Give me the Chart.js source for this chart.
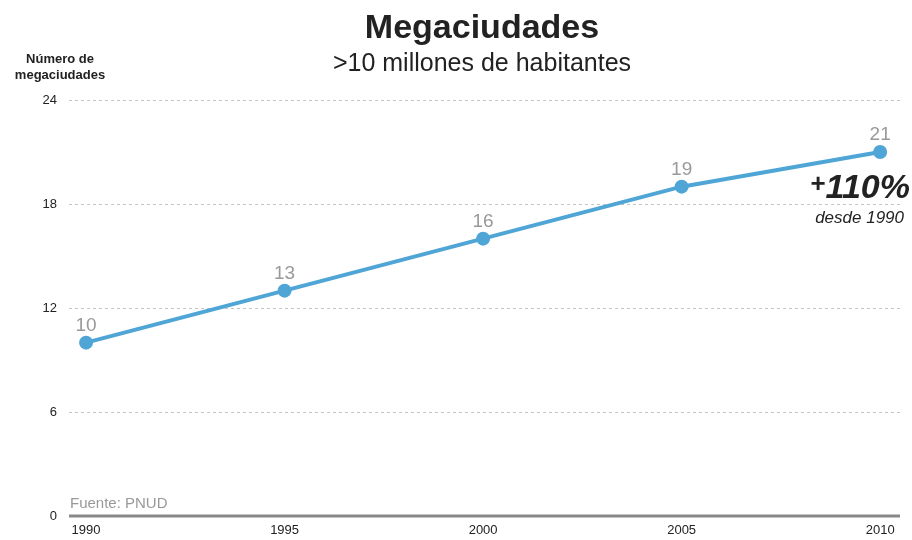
<!DOCTYPE html>
<html>
<head>
<meta charset="utf-8">
<script src="https://cdn.jsdelivr.net/npm/chart.js@4"></script>
<style>
  html, body { margin: 0; padding: 0; background: #fff; }
  #wrap { width: 912px; height: 540px; position: relative; }
</style>
</head>
<body>
<div id="wrap"><canvas id="chart"></canvas></div>
<script>
// datos
const years = [1990, 1995, 2000, 2005, 2010];
const megaciudades = [10, 13, 16, 19, 21];
const yTicks = [0, 6, 12, 18, 24];

const FONT = '"Liberation Sans", Arial, sans-serif';
const LINE_COLOR = '#4fa6d6';

// titulos y notas
const textPlugin = {
    id: 'texts',
    afterDraw(chart) {
        const { ctx, chartArea: { left, bottom }, scales: { x, y } } = chart;
        ctx.save();
        ctx.textAlign = 'center';
        ctx.textBaseline = 'alphabetic';
        ctx.fillStyle = '#222';
        ctx.font = 'bold 34px ' + FONT;
        ctx.fillText('Megaciudades', 482, 38);
        ctx.font = '25px ' + FONT;
        ctx.fillText('>10 millones de habitantes', 482, 71);

        ctx.font = 'bold 13px ' + FONT;
        ctx.fillText('Número de', 60, 63);
        ctx.fillText('megaciudades', 60, 79);

        // etiquetas de valores
        ctx.fillStyle = '#999';
        ctx.font = '19px ' + FONT;
        years.forEach((yr, i) => {
            ctx.fillText(String(megaciudades[i]), x.getPixelForValue(yr), y.getPixelForValue(megaciudades[i]) - 12);
        });

        // +110%
        ctx.fillStyle = '#222';
        ctx.textAlign = 'right';
        ctx.font = 'italic bold 34px ' + FONT;
        ctx.fillText('110%', 910, 198);
        const w = ctx.measureText('110%').width;
        ctx.font = 'bold 26px ' + FONT;
        ctx.fillText('+', 910 - w, 192);
        ctx.font = 'italic 17px ' + FONT;
        ctx.fillText('desde 1990', 904, 223);

        ctx.textAlign = 'left';
        ctx.fillStyle = '#999';
        ctx.font = '15px ' + FONT;
        ctx.fillText('Fuente: PNUD', left + 1, bottom - 8);
        ctx.restore();
    }
};

// linea base
const baselinePlugin = {
    id: 'baseline',
    beforeDatasetsDraw(chart) {
        const { ctx, chartArea: { left, right, bottom } } = chart;
        ctx.save();
        ctx.beginPath();
        ctx.moveTo(left, bottom);
        ctx.lineTo(right, bottom);
        ctx.lineWidth = 3;
        ctx.strokeStyle = '#888';
        ctx.stroke();
        ctx.restore();
    }
};

new Chart(document.getElementById('chart').getContext('2d'), {
    type: 'line',
    data: {
        datasets: [{
            data: years.map((yr, i) => ({ x: yr, y: megaciudades[i] })),
            borderColor: LINE_COLOR,
            backgroundColor: LINE_COLOR,
            borderWidth: 4,
            pointRadius: 5,
            pointHoverRadius: 5,
            tension: 0
        }]
    },
    plugins: [baselinePlugin, textPlugin],
    options: {
        responsive: true,
        maintainAspectRatio: false,
        animation: false,
        layout: { padding: { top: 100, right: 12, left: 0, bottom: 0 } },
        plugins: {
            legend: { display: false },
            tooltip: { enabled: false }
        },
        scales: {
            x: {
                type: 'linear',
                min: 1989.57,
                max: 2010.5,
                afterBuildTicks: (scale) => { scale.ticks = years.map(v => ({ value: v })); },
                afterFit: (scale) => { scale.height = 24; },
                grid: { display: false, drawTicks: false },
                border: { display: false },
                ticks: {
                    color: '#222',
                    font: { family: FONT, size: 13 },
                    padding: 7,
                    maxRotation: 0,
                    callback: v => String(v)
                }
            },
            y: {
                min: 0,
                max: 24,
                afterBuildTicks: (scale) => { scale.ticks = yTicks.map(v => ({ value: v })); },
                afterFit: (scale) => { scale.width = 69; },
                border: { display: false, dash: [3, 3] },
                grid: {
                    color: '#c4c4c4',
                    lineWidth: 1,
                    drawTicks: false
                },
                ticks: {
                    color: '#222',
                    font: { family: FONT, size: 13 },
                    padding: 12
                }
            }
        }
    }
});
</script>
</body>
</html>
